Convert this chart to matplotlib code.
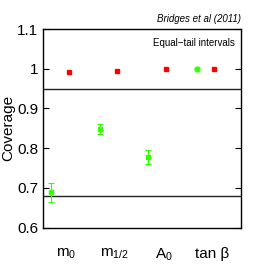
import numpy as np
import matplotlib
matplotlib.use('Agg')
import matplotlib.pyplot as plt

plt.rcParams['font.family'] = ['Liberation Sans', 'DejaVu Sans']
plt.rcParams['mathtext.fontset'] = 'custom'
plt.rcParams['mathtext.rm'] = 'Liberation Sans'
plt.rcParams['mathtext.it'] = 'Liberation Sans'

params = [r'm$_\mathrm{0}$', r'm$_\mathrm{1/2}$', r'A$_\mathrm{0}$', 'tan \u03b2']
# equal-tail coverage at 68% and 95%
cov68 = [0.689, 0.848, 0.777, 1.0]
err68 = [0.024, 0.012, 0.018, 0.0]
cov95 = [0.991, 0.995, 1.0, 1.0]
yticks = [0.6, 0.7, 0.8, 0.9, 1.0, 1.1]
yticklabels = ['0.6', '0.7', '0.8', '0.9', '1', '1.1']

x = np.arange(1, len(params) + 1)

fig = plt.figure(figsize=(2.66, 2.66), dpi=100)
ax = fig.add_axes([43/266, 1 - 227.5/266, 198/266, 198.5/266])

ax.axhline(0.95, color='#222222', lw=1.0)
ax.axhline(0.68, color='#222222', lw=1.0)

green = '#33ff00'
for xi, c, e in zip(x - 0.365, cov68, err68):
    if e > 0:
        ax.errorbar(xi, c, yerr=e, fmt='s', color=green, ms=3.5, mec=green,
                    elinewidth=0.8, capsize=2, capthick=0.8)
    else:
        ax.plot(xi, c, 'o', color=green, ms=3.5)
ax.plot(x, cov95, 's', color='red', ms=3.2, ls='none')

ax.set_xlim(0.465, 4.55)
ax.set_ylim(0.6, 1.1)
ax.set_yticks(yticks)
ax.set_yticklabels(yticklabels, fontsize=11)
ax.set_xticks(x - 0.05)
ax.set_xticklabels(params, fontsize=11)
ax.tick_params(axis='x', length=0, pad=14)
ax.tick_params(axis='y', direction='in', length=4, right=True, width=0.8)
for s in ax.spines.values():
    s.set_linewidth(1.0)
ax.set_ylabel('Coverage', fontsize=11, labelpad=1)

ax.text(0.97, 0.955, 'Equal\u2212tail intervals', transform=ax.transAxes,
        ha='right', va='top', fontsize=7)
ax.text(1.0, 1.025, 'Bridges et al (2011)', transform=ax.transAxes,
        ha='right', va='bottom', fontsize=7, style='italic')

fig.savefig('out.png', dpi=100)
